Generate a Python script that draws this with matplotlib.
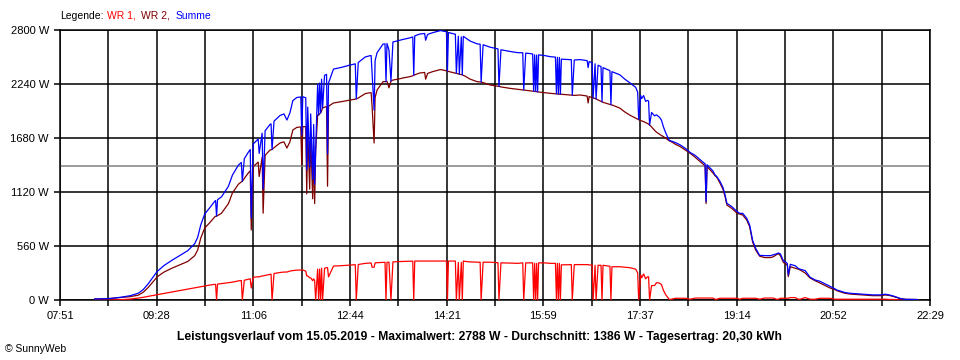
import numpy as np
import matplotlib.pyplot as plt

plt.rcParams['font.family'] = ['Liberation Sans', 'DejaVu Sans']

# Messwerte (Uhrzeit, WR 1, WR 2) in W
zeiten = [
    "08:26", "08:41", "08:52", "09:02", "09:10", "09:15", "09:20", "09:25", "09:29", "09:36",
    "09:44", "09:52", "10:00", "10:07", "10:10", "10:13", "10:17", "10:22", "10:27", "10:28",
    "10:29", "10:30", "10:34", "10:41", "10:45", "10:51", "10:54", "10:55", "10:57", "11:01",
    "11:03", "11:04", "11:06", "11:10", "11:11", "11:12", "11:15", "11:16", "11:18", "11:23",
    "11:24", "11:25", "11:27", "11:33", "11:37", "11:40", "11:43", "11:46", "11:50", "11:54",
    "11:55", "11:56", "11:59", "12:00", "12:01", "12:03", "12:04", "12:06", "12:07", "12:08",
    "12:09", "12:11", "12:12", "12:13", "12:14", "12:15", "12:16", "12:18", "12:20", "12:21",
    "12:22", "12:27", "12:34", "12:44", "12:49", "12:50", "12:52", "12:59", "13:04", "13:05",
    "13:06", "13:08", "13:09", "13:11", "13:17", "13:19", "13:20", "13:21", "13:23", "13:25",
    "13:27", "13:32", "13:37", "13:44", "13:47", "13:48", "13:49", "13:54", "13:59", "14:00",
    "14:02", "14:07", "14:15", "14:21", "14:22", "14:23", "14:27", "14:30", "14:31", "14:33",
    "14:34", "14:36", "14:37", "14:38", "14:40", "14:45", "14:52", "14:55", "14:56", "14:58",
    "15:05", "15:13", "15:14", "15:16", "15:25", "15:33", "15:38", "15:39", "15:41", "15:45",
    "15:48", "15:49", "15:50", "15:51", "15:52", "15:53", "15:54", "16:00", "16:06", "16:11",
    "16:12", "16:13", "16:14", "16:15", "16:16", "16:17", "16:21", "16:27", "16:28", "16:30",
    "16:36", "16:43", "16:44", "16:45", "16:48", "16:49", "16:51", "16:52", "16:54", "16:57",
    "16:58", "16:59", "17:06", "17:07", "17:08", "17:16", "17:21", "17:26", "17:32", "17:34",
    "17:35", "17:37", "17:38", "17:40", "17:42", "17:44", "17:45", "17:46", "17:48", "17:51",
    "17:53", "17:56", "17:58", "18:00", "18:02", "18:04", "18:06", "18:09", "18:12", "18:17",
    "18:22", "18:27", "18:32", "18:37", "18:41", "18:42", "18:43", "18:44", "18:47", "18:50",
    "18:52", "18:54", "18:57", "19:00", "19:02", "19:04", "19:09", "19:14", "19:17", "19:20",
    "19:24", "19:27", "19:30", "19:33", "19:37", "19:42", "19:48", "19:51", "19:54", "19:56",
    "19:58", "20:01", "20:04", "20:05", "20:06", "20:08", "20:13", "20:16", "20:18", "20:23",
    "20:28", "20:33", "20:38", "20:43", "20:48", "20:53", "20:55", "21:03", "21:08", "21:18",
    "21:31", "21:39", "21:44", "21:49", "21:54", "21:59", "22:04", "22:16", "22:17",
]
wr1 = [
    0, 0, 3, 10, 20, 28, 38, 48, 55, 68,
    82, 97, 112, 125, 131, 137, 145, 155, 162, 163,
    0, 165, 170, 180, 185, 198, 202, 0, 205, 215,
    220, 124, 235, 240, 240, 240, 250, 250, 255, 265,
    268, 0, 275, 285, 290, 290, 300, 305, 310, 311,
    311, 311, 300, 250, 250, 230, 230, 200, 220, 200,
    0, 320, 0, 320, 0, 330, 0, 330, 335, 335,
    240, 352, 355, 363, 366, 0, 368, 380, 384, 384,
    340, 340, 384, 387, 390, 391, 0, 392, 392, 0,
    395, 398, 400, 402, 403, 0, 404, 404, 404, 404,
    404, 404, 404, 404, 0, 404, 404, 404, 0, 390,
    0, 390, 0, 404, 400, 395, 392, 392, 0, 392,
    392, 387, 0, 385, 383, 380, 385, 0, 385, 385,
    385, 0, 380, 0, 380, 0, 385, 385, 380, 380,
    0, 380, 0, 380, 0, 365, 365, 367, 0, 367,
    367, 367, 367, 363, 363, 0, 360, 0, 360, 360,
    0, 360, 350, 0, 345, 345, 340, 335, 320, 280,
    0, 260, 230, 270, 220, 240, 240, 0, 150, 150,
    180, 175, 160, 100, 60, 30, 5, 10, 18, 18,
    18, 8, 20, 20, 20, 20, 20, 20, 20, 20,
    8, 8, 18, 18, 18, 18, 18, 18, 8, 18,
    18, 18, 18, 18, 8, 20, 20, 20, 8, 8,
    18, 18, 18, 18, 18, 25, 25, 8, 8, 25,
    8, 8, 18, 18, 18, 8, 8, 8, 8, 8,
    8, 8, 8, 5, 5, 0, 0, 0, 0,
]
wr2 = [
    10, 15, 25, 35, 50, 80, 130, 190, 240, 290,
    330, 365, 400, 460, 520, 640, 746, 800, 860, 868,
    870, 875, 900, 1000, 1110, 1200, 1225, 1230, 1260, 1317,
    1340, 726, 1383, 1420, 1430, 1280, 1480, 900, 1500, 1556,
    1558, 1560, 1580, 1628, 1640, 1576, 1640, 1763, 1790, 1795,
    1400, 1797, 1797, 1100, 1750, 1150, 1700, 1050, 1600, 1000,
    1550, 1918, 1918, 1930, 1940, 1960, 1991, 2000, 2005, 1180,
    2010, 2043, 2055, 2074, 2083, 2085, 2095, 2140, 2150, 2150,
    2000, 1628, 2100, 2178, 2264, 2265, 2265, 2268, 2200, 2270,
    2281, 2290, 2302, 2316, 2325, 2330, 2335, 2354, 2360, 2290,
    2350, 2368, 2390, 2378, 2375, 2370, 2360, 2352, 2350, 2345,
    2342, 2338, 2335, 2330, 2320, 2290, 2264, 2261, 2260, 2255,
    2230, 2217, 2215, 2210, 2195, 2185, 2179, 2178, 2175, 2171,
    2166, 2165, 2163, 2162, 2160, 2158, 2157, 2150, 2143, 2139,
    2138, 2137, 2136, 2135, 2134, 2133, 2130, 2125, 2124, 2122,
    2126, 2115, 2043, 2110, 2098, 2095, 2090, 2085, 2075, 2060,
    2055, 2050, 2028, 2025, 2023, 1990, 1950, 1918, 1885, 1875,
    1870, 1862, 1858, 1850, 1840, 1830, 1822, 1815, 1795, 1760,
    1740, 1720, 1705, 1695, 1680, 1665, 1650, 1635, 1615, 1590,
    1555, 1521, 1480, 1435, 1400, 1395, 1000, 1383, 1350, 1317,
    1290, 1270, 1213, 1150, 1080, 985, 950, 902, 890, 881,
    830, 760, 600, 520, 455, 440, 440, 449, 470, 480,
    460, 390, 370, 360, 242, 345, 330, 320, 311, 280,
    228, 200, 176, 150, 125, 108, 96, 70, 62, 55,
    45, 45, 52, 45, 30, 15, 7, 5, 0,
]
durchschnitt = 1386

x_ticks = ["07:51", "09:28", "11:06", "12:44", "14:21", "15:59", "17:37", "19:14", "20:52", "22:29"]
y_ticks = [0, 560, 1120, 1680, 2240, 2800]
titel = ("Leistungsverlauf vom 15.05.2019 - Maximalwert: 2788 W - "
         "Durchschnitt: 1386 W - Tagesertrag: 20,30 kWh")


def minuten(s):
    h, m = s.split(":")
    return int(h) * 60 + int(m)


t = np.array([minuten(z) for z in zeiten])
wr1 = np.array(wr1)
wr2 = np.array(wr2)
summe = wr1 + wr2

t0 = minuten(x_ticks[0])
t1 = minuten(x_ticks[-1])

fig = plt.figure(figsize=(9.6, 3.6), dpi=100)
ax = fig.add_axes([60 / 960, 1 - 300 / 360, 870 / 960, 270 / 360])

ax.set_xlim(t0, t1)
ax.set_ylim(0, 2800)

grid_x = np.linspace(t0, t1, 19)
ax.set_xticks(grid_x)
ax.set_xticklabels([x_ticks[i // 2] if i % 2 == 0 else "" for i in range(19)])
ax.set_yticks(y_ticks)
ax.set_yticklabels([f"{v} W" for v in y_ticks])
ax.tick_params(direction='out', length=4, width=1.1, labelsize=8, pad=4, colors='black')

for gx in grid_x:
    ax.axvline(gx, color='black', lw=1.1, zorder=1)
for gy in y_ticks:
    ax.axhline(gy, color='black', lw=1.1, zorder=1)
ax.axhline(durchschnitt, color='#808080', lw=1.1, zorder=1)
for sp in ax.spines.values():
    sp.set_linewidth(1.1)

ax.plot(t, wr1, color='#ff0000', lw=0.9, zorder=3)
ax.plot(t, wr2, color='#800000', lw=0.9, zorder=4)
ax.plot(t, summe, color='#0000ff', lw=0.9, zorder=5)

# Legende oben links
ly = 1 - 16 / 360
fig.text(60 / 960, ly, "Legende:", fontsize=7.5, color='black', va='center')
fig.text(107 / 960, ly, "WR 1,", fontsize=7.5, color='#ff0000', va='center')
fig.text(141 / 960, ly, "WR 2,", fontsize=7.5, color='#800000', va='center')
fig.text(176 / 960, ly, "Summe", fontsize=7.5, color='#0000ff', va='center')

fig.text(479 / 960, 1 - 337 / 360, titel, fontsize=8.7, fontweight='bold', ha='center', va='center')
fig.text(5 / 960, 1 - 349 / 360, "\u00a9 SunnyWeb", fontsize=7.5, va='center')

fig.savefig("out.png", dpi=100, facecolor='white')
